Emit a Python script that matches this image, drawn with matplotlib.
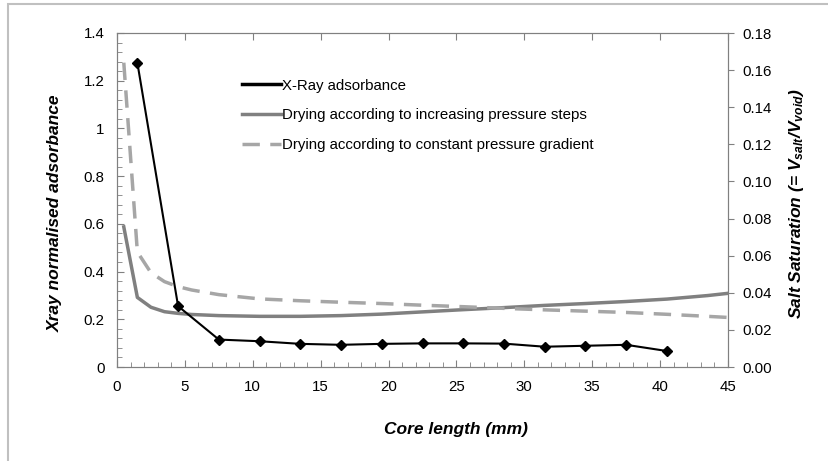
# X-ray adsorbance and salt saturation along the core
import matplotlib
matplotlib.use("Agg")
import matplotlib.pyplot as plt
from matplotlib.patches import Rectangle
from matplotlib.ticker import MultipleLocator, FormatStrFormatter, FuncFormatter

plt.rcParams["font.family"] = ["Liberation Sans", "DejaVu Sans"]
plt.rcParams["mathtext.fontset"] = "custom"
plt.rcParams["mathtext.rm"] = "Liberation Sans:bold:italic"
plt.rcParams["mathtext.it"] = "Liberation Sans:bold:italic"

# X-ray measurements (left axis)
xray_x = [1.5, 4.5, 7.5, 10.5, 13.5, 16.5, 19.5, 22.5, 25.5, 28.5, 31.5, 34.5, 37.5, 40.5]
xray_y = [1.275, 0.255, 0.115, 0.108, 0.097, 0.093, 0.097, 0.099, 0.099, 0.098, 0.085, 0.089, 0.093, 0.067]

# simulated drying profiles (right axis)
sim_x = [0.5, 1.5, 2.5, 3.5, 4.5, 5.5, 7.5, 10.5, 13.5, 16.5, 19.5, 22.5, 25.5,
         28.5, 31.5, 34.5, 37.5, 40.5, 43.5, 45]
steps_y = [0.0755, 0.0375, 0.0322, 0.0298, 0.0289, 0.0283, 0.0277, 0.0273, 0.0273,
           0.0277, 0.0285, 0.0297, 0.0309, 0.0320, 0.0332, 0.0342, 0.0353, 0.0366,
           0.0385, 0.0397]
gradient_y = [0.164, 0.062, 0.0508, 0.046, 0.0433, 0.0415, 0.0390, 0.0367, 0.0357,
              0.0349, 0.0342, 0.0333, 0.0325, 0.0316, 0.0308, 0.0301, 0.0294, 0.0284,
              0.0273, 0.0267]

fig = plt.figure(figsize=(8.29, 4.61), dpi=100)
# outer chart border (runs off the right/bottom edge as in the original)
fig.patches.append(Rectangle((8 / 829, -0.1), 1.2, 1.1 - 4 / 461, transform=fig.transFigure,
                             fill=False, edgecolor="#c0c0c0", lw=1.5))

ax = fig.add_axes([117 / 829, 94 / 461, 611 / 829, 334 / 461])
ax2 = ax.twinx()

ax.plot(xray_x, xray_y, color="black", lw=1.5, marker="D", ms=5, label="X-Ray adsorbance", zorder=5)
ax2.plot(sim_x, steps_y, color="#808080", lw=2.5, label="Drying according to increasing pressure steps")
ax2.plot(sim_x, gradient_y, color="#a6a6a6", lw=2.5, ls=(0, (5, 3)),
         label="Drying according to constant pressure gradient")

ax.set_zorder(ax2.get_zorder() + 1)
ax.patch.set_visible(False)

ax.set_xlim(0, 45)
ax.set_ylim(0, 1.4)
ax2.set_ylim(0, 0.18)

ax.xaxis.set_major_locator(MultipleLocator(5))
ax.xaxis.set_minor_locator(MultipleLocator(1))
ax.yaxis.set_major_locator(MultipleLocator(0.2))
ax.yaxis.set_minor_locator(MultipleLocator(0.04))
ax.yaxis.set_major_formatter(FuncFormatter(lambda v, p: "%g" % round(v, 2)))
ax2.yaxis.set_major_locator(MultipleLocator(0.02))
ax2.yaxis.set_major_formatter(FormatStrFormatter("%.2f"))

spine_col = "#808080"
for s in ax.spines.values():
    s.set_color(spine_col)
for s in ax2.spines.values():
    s.set_color(spine_col)

ax.tick_params(axis="both", which="major", direction="in", length=5, color=spine_col,
               labelsize=10.8, top=True, pad=9)
ax.tick_params(axis="both", which="minor", direction="in", length=3.5, color=spine_col)
ax.tick_params(axis="x", which="minor", top=False)
ax2.tick_params(axis="y", which="major", direction="out", length=4, color=spine_col,
                labelsize=10.8, pad=6)

ax.set_xlabel("Core length (mm)", fontsize=12.5, fontweight="bold", style="italic")
ax.xaxis.set_label_coords(0.555, -0.165)
ax.set_ylabel("Xray normalised adsorbance", fontsize=12.5, fontweight="bold", style="italic")
ax.yaxis.set_label_coords(-0.088, 0.46)
ax2.set_ylabel(r"Salt Saturation (= V$_{\rm salt}$/V$_{\rm void}$)", fontsize=12.5,
               fontweight="bold", style="italic", rotation=90)
ax2.yaxis.set_label_coords(1.097, 0.49)

h1, l1 = ax.get_legend_handles_labels()
h2, l2 = ax2.get_legend_handles_labels()
leg = ax.legend(h1 + h2, l1 + l2, loc="upper left", bbox_to_anchor=(0.194, 0.881),
                frameon=False, fontsize=10.8, handlelength=2.6, handletextpad=0.1,
                labelspacing=1.05, borderaxespad=0)
for h in leg.legend_handles:
    h.set_marker("")
leg.legend_handles[0].set_linewidth(2.5)

fig.savefig("out.png", dpi=100)
